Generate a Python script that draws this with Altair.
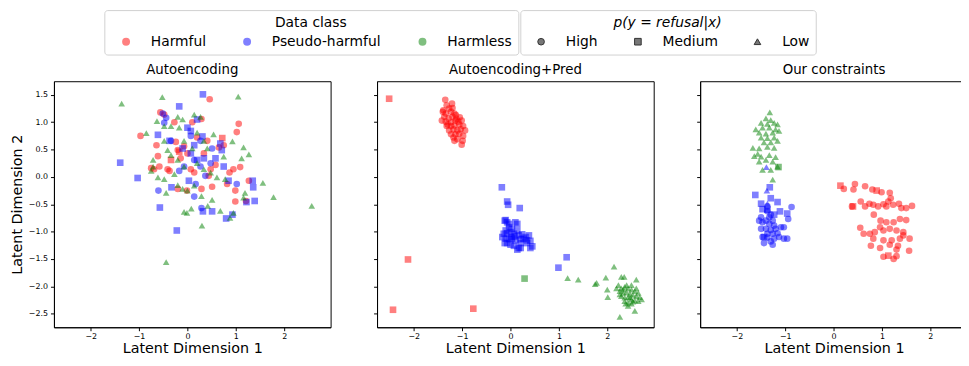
import altair as alt
import pandas as pd

# ---------------- data ----------------
classes = ["Harmful", "Pseudo-harmful", "Harmless"]
levels = ["High", "Medium", "Low"]
panels = ["Autoencoding", "Autoencoding+Pred", "Our constraints"]

# Panel 1: Autoencoding
ae_harmful_high = [(-0.56, 1.18), (-0.48, 1.14), (0.46, 1.42), (1.06, 0.97), (1.02, 0.82), (-0.97, 0.75),
                   (-0.64, 0.58), (-0.61, 0.38), (-0.27, 1.0), (0.29, 1.06), (0.1, 1.0), (-0.24, 0.64),
                   (-0.2, 0.49), (-0.07, 0.56), (0.2, 0.72), (0.41, 0.66), (0.75, 0.58), (0.65, 0.54),
                   (-0.75, 0.16), (-0.69, 0.14), (-0.41, 0.14), (-0.37, 0.11), (0.07, 0.14), (0.14, 0.08),
                   (0.48, 0.14), (0.58, 0.22), (0.95, 0.14), (0.87, 0.08), (1.09, 0.18), (1.27, -0.07),
                   (0.82, -0.13), (0.44, 0.02), (0.51, -0.18), (0.29, -0.22), (-0.01, -0.25), (-0.2, -0.22),
                   (0.99, -0.25), (0.99, -0.45), (1.21, -0.44), (-0.58, 0.19), (-0.14, 0.34), (0.34, 0.43),
                   (0.0, 0.43)]
ae_harmful_medium = [(0.72, 0.71), (-0.34, 0.31), (-0.17, 0.46)]
ae_pseudo_high = [(-0.51, 1.16), (-0.48, 0.99), (-0.44, 1.08), (-0.6, -0.25), (0.14, -0.36), (0.17, -0.13),
                  (1.02, -0.13), (-0.17, 0.11), (-0.07, 0.19), (0.14, 0.31), (0.27, 0.19), (0.37, 0.02),
                  (0.48, 0.25), (0.51, 0.52), (0.27, 0.66), (0.07, 0.75), (-0.34, 0.66), (0.29, -0.57)]
ae_pseudo_medium = [(0.32, 1.51), (-0.17, 1.29), (-0.61, 0.77), (-1.39, 0.26), (-1.03, -0.02), (-0.33, -0.19),
                    (-0.57, -0.56), (-0.22, -0.98), (0.32, -0.63), (0.51, -0.63), (0.8, -0.76), (0.93, -0.69),
                    (1.22, -0.46), (1.39, -0.44), (1.36, -0.19), (1.35, -0.07), (0.85, -0.07), (0.75, 0.19),
                    (0.58, 0.34), (0.68, 0.61), (0.71, 0.49), (0.0, 0.9), (0.07, 0.84), (0.31, 0.74),
                    (0.14, 0.58), (-0.1, 0.52), (0.07, 0.43), (0.2, 0.31), (0.34, 0.34), (0.03, -0.07),
                    (-0.37, 0.66), (0.2, 1.05)]
ae_harmless_low = [(-1.36, 1.34), (-0.52, 1.46), (1.05, 1.47), (-0.85, 0.8), (-0.63, 1.02), (-0.2, 1.1),
                   (-0.1, 1.05), (0.14, 1.14), (0.27, 1.1), (-0.48, 0.93), (-0.34, 0.93), (-0.17, 0.9),
                   (0.2, 0.81), (0.54, 0.78), (0.34, 0.66), (0.93, 0.65), (-0.48, 0.66), (-0.71, 0.31),
                   (-0.71, 0.19), (-0.75, 0.11), (-0.61, -0.01), (-0.48, -0.04), (-0.27, 0.05), (-0.41, 0.49),
                   (-0.34, 0.4), (-0.2, 0.31), (-0.07, 0.19), (0.2, 0.25), (0.34, 0.14), (0.48, 0.08),
                   (0.61, -0.01), (0.78, -0.04), (0.75, 0.37), (1.16, 0.54), (1.27, 0.41), (1.12, 0.34),
                   (1.56, -0.11), (1.78, -0.37), (2.57, -0.53), (1.19, -0.29), (1.16, -0.38), (-0.44, -0.29),
                   (-0.2, -0.15), (0.0, -0.25), (-0.07, -0.64), (-0.01, -0.66), (0.08, -0.58), (0.29, -0.35),
                   (0.51, -0.42), (0.42, -0.53), (0.3, -0.89), (0.68, -0.62), (0.88, -0.75), (0.95, -0.66),
                   (-0.44, -1.56), (-0.07, 0.66), (0.1, 0.52), (0.41, 0.52), (-0.1, -0.22), (0.14, -0.16)]

# Panel 2: Autoencoding+Pred
ap_harmful_high = [(-1.35, 1.41), (-1.32, 1.31), (-1.27, 1.25), (-1.2, 1.26), (-1.4, 1.19), (-1.34, 1.16),
                   (-1.23, 1.19), (-1.16, 1.16), (-1.37, 1.1), (-1.28, 1.07), (-1.2, 1.1), (-1.13, 1.13),
                   (-1.42, 1.03), (-1.34, 1.01), (-1.23, 1.0), (-1.14, 1.03), (-1.08, 1.01), (-1.01, 1.03),
                   (-1.32, 0.93), (-1.23, 0.93), (-1.16, 0.94), (-1.06, 0.96), (-0.98, 0.93), (-1.27, 0.85),
                   (-1.18, 0.87), (-1.1, 0.85), (-1.03, 0.87), (-0.94, 0.85), (-1.23, 0.78), (-1.14, 0.78),
                   (-1.06, 0.79), (-0.98, 0.75), (-1.16, 0.66), (-1.1, 0.69), (-0.99, 0.66), (-1.01, 0.59),
                   (-1.3, 0.96), (-1.39, 1.22), (-1.21, 1.34), (-1.12, 1.06), (-1.05, 1.09), (-1.18, 0.72)]
ap_harmful_medium = [(-2.51, 1.43), (-2.12, -1.51), (-2.43, -2.43), (-0.77, -2.41)]
ap_pseudo_medium = [(-0.1, -0.79), (-0.12, -0.8), (-0.07, -0.83), (-0.03, -0.86), (0.1, -0.83), (0.14, -0.86),
                    (-0.14, -1.04), (-0.07, -1.03), (0.0, -1.01), (0.07, -1.04), (0.17, -1.07), (0.24, -1.05),
                    (0.31, -1.1), (0.38, -1.07), (-0.17, -1.1), (-0.1, -1.13), (-0.03, -1.14), (0.03, -1.13),
                    (0.1, -1.16), (0.21, -1.14), (0.27, -1.13), (0.34, -1.16), (0.41, -1.17), (-0.07, -1.21),
                    (0.0, -1.24), (0.07, -1.26), (0.17, -1.3), (0.41, -1.3), (0.45, -1.27), (-0.03, -0.92),
                    (0.03, -0.95), (0.14, -0.98), (-0.1, -0.98), (0.02, -1.1), (0.09, -1.09), (0.34, -1.21),
                    (0.21, -1.21), (-0.12, -1.21), (0.14, -1.33), (0.21, -1.3),
                    (-0.18, -0.19), (-0.07, -0.45), (-0.05, -0.51), (0.19, -0.57), (1.16, -1.47), (0.99, -1.66)]
ap_harmless_medium = [(0.29, -1.86)]
ap_harmless_low = [(2.23, -1.98), (2.29, -2.04), (2.36, -2.01), (2.43, -2.04), (2.5, -2.06), (2.57, -2.09),
                   (2.64, -2.12), (2.26, -2.09), (2.33, -2.12), (2.4, -2.11), (2.47, -2.14), (2.53, -2.16),
                   (2.6, -2.18), (2.67, -2.2), (2.29, -2.18), (2.36, -2.21), (2.43, -2.2), (2.5, -2.24),
                   (2.57, -2.26), (2.64, -2.27), (2.36, -2.27), (2.43, -2.3), (2.5, -2.32), (2.43, -2.36),
                   (2.33, -2.06), (2.19, -2.04), (2.4, -1.98), (2.5, -1.98), (2.6, -2.04), (2.26, -2.15),
                   (2.47, -2.21), (2.53, -2.28), (2.38, -2.32),
                   (2.14, -1.64), (1.18, -1.85), (1.4, -1.88), (1.75, -1.96), (1.78, -1.94), (1.97, -1.84),
                   (2.0, -2.06), (2.01, -2.2), (2.26, -2.56), (2.29, -1.83), (2.35, -1.83), (2.6, -1.88),
                   (2.57, -2.45), (2.71, -2.24)]

# Panel 3: Our constraints
oc_harmful_high = [(0.21, -0.22), (0.44, -0.13), (0.41, -0.23), (0.65, -0.17), (0.8, -0.23), (0.99, -0.28),
                   (1.16, -0.29), (0.56, -0.45), (0.74, -0.49), (0.38, -0.54), (0.65, -0.54), (0.82, -0.51),
                   (0.92, -0.54), (1.03, -0.5), (1.13, -0.45), (1.18, -0.39), (1.09, -0.54), (1.23, -0.51),
                   (1.35, -0.49), (1.4, -0.57), (1.5, -0.57), (1.62, -0.53), (0.83, -0.69), (0.97, -0.8),
                   (1.09, -0.83), (1.24, -0.83), (1.37, -0.77), (1.5, -0.79), (0.96, -0.92), (0.55, -0.93),
                   (0.62, -1.04), (0.75, -1.04), (0.85, -1.01), (1.03, -0.98), (1.16, -0.95), (1.3, -0.98),
                   (1.44, -1.01), (1.57, -1.13), (0.82, -1.13), (1.03, -1.16), (1.2, -1.16), (1.37, -1.13),
                   (1.44, -1.07), (0.77, -1.26), (0.96, -1.3), (1.16, -1.24), (1.33, -1.26), (1.3, -1.33),
                   (1.56, -1.35), (1.03, -1.46), (1.24, -1.5), (1.3, -1.45)]
oc_harmful_medium = [(0.14, -0.16), (0.4, -0.54), (0.89, -0.25), (1.13, -1.44)]
oc_pseudo_high = [(-1.37, -0.63), (-1.3, -0.69), (-1.33, -0.74), (-1.4, -0.8), (-1.26, -0.8), (-1.54, -0.8),
                  (-1.47, -0.83), (-1.33, -0.86), (-1.23, -0.89), (-1.5, -0.95), (-1.4, -0.95), (-1.3, -0.97),
                  (-1.2, -0.95), (-1.09, -0.92), (-1.03, -0.92), (-1.37, -1.04), (-1.26, -1.04), (-1.16, -1.03),
                  (-1.47, -1.1), (-1.37, -1.11), (-1.23, -1.13), (-1.13, -1.1), (-1.03, -1.13), (-0.96, -1.13),
                  (-1.3, -1.18), (-1.26, -1.24), (-1.44, -1.21), (-0.94, -0.77), (-0.87, -0.55), (-1.5, -0.74),
                  (-1.37, -0.54)]
oc_pseudo_medium = [(-1.32, -0.19), (-1.62, -0.33), (-1.5, -0.49), (-1.3, -0.39), (-1.16, -0.46), (-1.47, -0.59),
                    (-1.11, -0.63), (-0.96, -0.67), (-1.37, -0.6), (-1.23, -0.69), (-1.44, -1.1)]
oc_pseudo_low = [(-1.39, 0.18), (-1.38, -0.25), (-1.37, -0.49)]
oc_harmless_medium = [(-1.14, 0.18)]
oc_harmless_low = [(-1.32, 1.18), (-1.4, 1.07), (-1.3, 1.04), (-1.5, 0.99), (-1.37, 0.97), (-1.23, 0.99),
                   (-1.16, 0.96), (-1.61, 0.87), (-1.47, 0.9), (-1.33, 0.9), (-1.2, 0.87), (-1.54, 0.81),
                   (-1.4, 0.79), (-1.26, 0.81), (-1.13, 0.84), (-1.5, 0.72), (-1.37, 0.71), (-1.23, 0.72),
                   (-1.44, 0.63), (-1.3, 0.63), (-1.16, 0.66), (-1.67, 0.53), (-1.54, 0.52), (-1.37, 0.55),
                   (-1.23, 0.53), (-1.64, 0.38), (-1.5, 0.37), (-1.33, 0.4), (-1.2, 0.36), (-1.4, 0.31),
                   (-1.26, 0.28), (-1.54, 0.28), (-1.47, 0.13), (-1.3, 0.13), (-1.16, 0.19), (-1.26, -0.05),
                   (-1.57, 0.42)]

groups = [
    (panels[0], "Harmful", "High", ae_harmful_high),
    (panels[0], "Harmful", "Medium", ae_harmful_medium),
    (panels[0], "Pseudo-harmful", "High", ae_pseudo_high),
    (panels[0], "Pseudo-harmful", "Medium", ae_pseudo_medium),
    (panels[0], "Harmless", "Low", ae_harmless_low),
    (panels[1], "Harmful", "High", ap_harmful_high),
    (panels[1], "Harmful", "Medium", ap_harmful_medium),
    (panels[1], "Pseudo-harmful", "Medium", ap_pseudo_medium),
    (panels[1], "Harmless", "Medium", ap_harmless_medium),
    (panels[1], "Harmless", "Low", ap_harmless_low),
    (panels[2], "Harmful", "High", oc_harmful_high),
    (panels[2], "Harmful", "Medium", oc_harmful_medium),
    (panels[2], "Pseudo-harmful", "High", oc_pseudo_high),
    (panels[2], "Pseudo-harmful", "Medium", oc_pseudo_medium),
    (panels[2], "Pseudo-harmful", "Low", oc_pseudo_low),
    (panels[2], "Harmless", "Medium", oc_harmless_medium),
    (panels[2], "Harmless", "Low", oc_harmless_low),
]

rows = []
for panel, cls, lvl, pts in groups:
    for x, y in pts:
        rows.append({"panel": panel, "cls": cls, "lvl": lvl, "x": x, "y": y})
df = pd.DataFrame(rows)

y_ticks = [-2.5, -2.0, -1.5, -1.0, -0.5, 0.0, 0.5, 1.0, 1.5]
x_ticks = [-2, -1, 0, 1, 2]

color_scale = alt.Scale(domain=classes, range=["red", "blue", "green"])
shape_scale = alt.Scale(domain=levels, range=["circle", "square", "triangle-up"])

color_legend = alt.Legend(
    title="Data class", orient="none", legendX=51, legendY=-72, direction="horizontal",
    titleAnchor="middle", titleFontSize=14, titleFontWeight="normal", titleColor="black",
    labelFontSize=14, labelColor="black", symbolType="circle", symbolSize=64, symbolOpacity=0.5,
    symbolStrokeWidth=0, symbolOffset=9, labelOffset=18, columnPadding=25.5,
    strokeColor="#d0d0d0", padding=6, cornerRadius=3, titlePadding=5,
)
shape_legend = alt.Legend(
    title="p(y = refusal|x)", orient="none", legendX=472, legendY=-72, direction="horizontal",
    titleAnchor="middle", titleFontSize=14, titleFontWeight="normal", titleFontStyle="italic",
    titleColor="black", labelFontSize=14, labelColor="black", symbolSize=45, symbolOpacity=1,
    symbolFillColor="#777777", symbolStrokeColor="#333333", symbolStrokeWidth=1,
    symbolOffset=8, labelOffset=18, columnPadding=25, strokeColor="#d0d0d0", padding=6,
    cornerRadius=3, titlePadding=5,
)


def panel_chart(name, idx, width, xmax):
    first = idx == 0
    yaxis = alt.Axis(values=y_ticks, format=".1f", title="Latent Dimension 2" if first else None,
                     labels=first, titlePadding=4)
    return alt.Chart(df).transform_filter(alt.datum.panel == name).mark_point(
        filled=True, opacity=0.5, size=45, strokeWidth=0
    ).encode(
        x=alt.X("x:Q", scale=alt.Scale(domain=[-2.76, xmax], nice=False, zero=False),
                axis=alt.Axis(values=x_ticks, format="d", title="Latent Dimension 1",
                              titlePadding=1, labelPadding=2)),
        y=alt.Y("y:Q", scale=alt.Scale(domain=[-2.75, 1.75], nice=False, zero=False), axis=yaxis),
        color=alt.Color("cls:N", scale=color_scale, legend=color_legend),
        shape=alt.Shape("lvl:N", scale=shape_scale, legend=shape_legend),
    ).properties(
        width=width, height=249,
        title=alt.TitleParams(name, fontSize=13.5, fontWeight="normal", offset=5, color="black"),
    )


chart = alt.hconcat(
    panel_chart(panels[0], 0, 280, 2.96),
    panel_chart(panels[1], 1, 280, 2.96),
    panel_chart(panels[2], 2, 271, 2.776),
    spacing=41,
).properties(
    padding={"left": 0.5, "top": -1, "right": -8, "bottom": 0}
).configure(
    font="DejaVu Sans",
).configure_view(
    stroke="black", strokeWidth=1
).configure_axis(
    grid=False, domainColor="black", tickColor="black", labelColor="black", titleColor="black",
    tickSize=3.5, labelFontSize=8, titleFontSize=14.5, titleFontWeight="normal", labelPadding=3,
    domainWidth=1, tickWidth=1,
)

chart.save("out.html", embed_options={"renderer": "svg", "actions": False})
